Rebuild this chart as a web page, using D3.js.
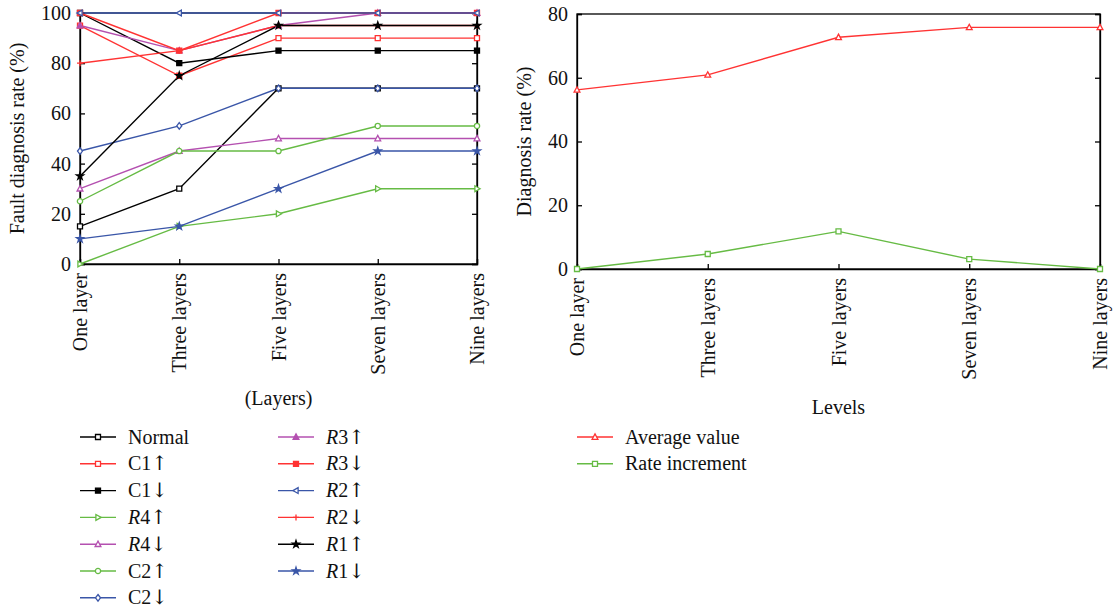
<!DOCTYPE html>
<html>
<head>
<meta charset="utf-8">
<script src="https://cdn.jsdelivr.net/npm/d3@7"></script>
<style>
  body { margin: 0; background: #fff; }
  svg text { font-family: "Liberation Serif", "DejaVu Serif", serif; fill: #111; }
  .axis path, .axis line { stroke: #000; stroke-width: 1.3; }
</style>
</head>
<body>
<svg id="chart" width="1115" height="614"></svg>
<script>
// categories
const layers = ['One layer', 'Three layers', 'Five layers', 'Seven layers', 'Nine layers'];

// left panel: fault diagnosis rate per fault type (%)
const normal = [15, 30, 70, 70, 70];
const c1Up = [95, 75, 90, 90, 90];
const c1Down = [100, 80, 85, 85, 85];
const r4Up = [0, 15, 20, 30, 30];
const r4Down = [30, 45, 50, 50, 50];
const c2Up = [25, 45, 45, 55, 55];
const c2Down = [45, 55, 70, 70, 70];
const r3Up = [95, 85, 95, 100, 100];
const r3Down = [100, 85, 100, 100, 100];
const r2Up = [100, 100, 100, 100, 100];
const r2Down = [80, 85, 95, 95, 95];
const r1Up = [35, 75, 95, 95, 95];
const r1Down = [10, 15, 30, 45, 45];

// right panel
const averageValue = [56.2, 60.9, 72.7, 75.8, 75.8];
const rateIncrement = [0, 4.7, 11.8, 3.1, 0];

const leftTicks = [0, 20, 40, 60, 80, 100];
const rightTicks = [0, 20, 40, 60, 80];

const BLACK = '#000', RED = '#ff3333', GREEN = '#66bb44', MAGENTA = '#b450b0', BLUE = '#3a56a8';
const UP = '\u2191\uFE0E', DOWN = '\u2193\uFE0E';

// name parts: [upright, italic, rest, arrow]
const leftSeries = [
  { name: ['Normal', '', '', ''], data: normal, color: BLACK, mark: 'square', fill: false },
  { name: ['C1', '', '', UP], data: c1Up, color: RED, mark: 'square', fill: false },
  { name: ['C1', '', '', DOWN], data: c1Down, color: BLACK, mark: 'square', fill: true },
  { name: ['', 'R', '4', UP], data: r4Up, color: GREEN, mark: 'right', fill: false },
  { name: ['', 'R', '4', DOWN], data: r4Down, color: MAGENTA, mark: 'triangle', fill: false },
  { name: ['C2', '', '', UP], data: c2Up, color: GREEN, mark: 'circle', fill: false },
  { name: ['C2', '', '', DOWN], data: c2Down, color: BLUE, mark: 'diamond', fill: false },
  { name: ['', 'R', '3', UP], data: r3Up, color: MAGENTA, mark: 'triangle', fill: true },
  { name: ['', 'R', '3', DOWN], data: r3Down, color: RED, mark: 'square', fill: true },
  { name: ['', 'R', '2', UP], data: r2Up, color: BLUE, mark: 'left', fill: false },
  { name: ['', 'R', '2', DOWN], data: r2Down, color: RED, mark: 'plus', fill: false },
  { name: ['', 'R', '1', UP], data: r1Up, color: BLACK, mark: 'star', fill: true },
  { name: ['', 'R', '1', DOWN], data: r1Down, color: BLUE, mark: 'star', fill: true }
];

const rightSeries = [
  { name: ['Average value', '', '', ''], data: averageValue, color: RED, mark: 'triangle', fill: false },
  { name: ['Rate increment', '', '', ''], data: rateIncrement, color: GREEN, mark: 'square', fill: false }
];

const svg = d3.select('#chart');

function markerPath(mark) {
  const s = 2.5;
  switch (mark) {
    case 'square': return `M${-s},${-s}H${s}V${s}H${-s}Z`;
    case 'triangle': return `M0,${-s - 0.6}L${s + 0.4},${s - 0.2}L${-s - 0.4},${s - 0.2}Z`;
    case 'right': return `M${s + 0.6},0L${-s + 0.4},${-s - 0.4}L${-s + 0.4},${s + 0.4}Z`;
    case 'left': return `M${-s - 0.6},0L${s - 0.4},${-s - 0.4}L${s - 0.4},${s + 0.4}Z`;
    case 'diamond': return `M0,${-s - 0.8}L${s},0L0,${s + 0.8}L${-s},0Z`;
    case 'plus': return `M${-s - 0.5},0H${s + 0.5}M0,${-s - 0.5}V${s + 0.5}`;
    case 'star': return d3.symbol(d3.symbolStar, 16)();
    default: return d3.symbol(d3.symbolCircle, 22)();
  }
}

function drawMarker(g, mark, color, fill) {
  const p = g.append('path').attr('d', markerPath(mark))
    .attr('stroke', color).attr('stroke-width', 1.3);
  p.attr('fill', fill ? color : (mark === 'plus' ? 'none' : '#fff'));
}

function panel(opts) {
  const x = d3.scalePoint().domain(opts.categories).range([opts.x0, opts.x1]);
  const y = d3.scaleLinear().domain(opts.yDomain).range([opts.y1, opts.y0]);
  const g = svg.append('g');

  // frame
  g.append('rect').attr('x', opts.x0).attr('y', opts.y0)
    .attr('width', opts.x1 - opts.x0).attr('height', opts.y1 - opts.y0)
    .attr('fill', 'none').attr('stroke', '#000').attr('stroke-width', 1.3);

  const yl = g.append('g').attr('class', 'axis').attr('transform', `translate(${opts.x0},0)`)
    .call(d3.axisLeft(y).tickValues(opts.ticks).tickSize(-5).tickPadding(9));
  yl.selectAll('text').style('font-size', '20px');
  g.append('g').attr('class', 'axis').attr('transform', `translate(${opts.x1},0)`)
    .call(d3.axisRight(y).tickValues(opts.ticks).tickSize(-5).tickFormat(''));
  const xb = g.append('g').attr('class', 'axis').attr('transform', `translate(0,${opts.y1})`)
    .call(d3.axisBottom(x).tickSize(-5).tickPadding(0));
  xb.selectAll('text')
    .style('font-size', '20px')
    .attr('text-anchor', 'end')
    .attr('transform', 'rotate(-90)')
    .attr('x', -9).attr('y', 0).attr('dy', '0.33em');
  g.selectAll('.axis .domain').attr('stroke', 'none');

  // titles
  g.append('text').attr('transform', `translate(${opts.yTitleX},${(opts.y0 + opts.y1) / 2}) rotate(-90)`)
    .attr('text-anchor', 'middle').style('font-size', '20px').text(opts.yTitle);
  g.append('text').attr('x', (opts.x0 + opts.x1) / 2).attr('y', opts.xTitleY)
    .attr('text-anchor', 'middle').style('font-size', '20px').text(opts.xTitle);

  const line = d3.line().x((d, i) => x(opts.categories[i])).y(d => y(d));
  opts.series.forEach(s => {
    g.append('path').datum(s.data).attr('d', line)
      .attr('fill', 'none').attr('stroke', s.color).attr('stroke-width', 1.4);
  });
  opts.series.forEach(s => {
    s.data.forEach((v, i) => {
      const m = g.append('g').attr('transform', `translate(${x(opts.categories[i])},${y(v)})`);
      drawMarker(m, s.mark, s.color, s.fill);
    });
  });
}

panel({
  categories: layers, series: leftSeries, yDomain: [0, 100], ticks: leftTicks,
  x0: 80, x1: 477, y0: 13, y1: 264,
  yTitle: 'Fault diagnosis rate (%)', yTitleX: 24,
  xTitle: '(Layers)', xTitleY: 405
});

panel({
  categories: layers, series: rightSeries, yDomain: [0, 80], ticks: rightTicks,
  x0: 577, x1: 1100, y0: 14, y1: 269,
  yTitle: 'Diagnosis rate (%)', yTitleX: 531,
  xTitle: 'Levels', xTitleY: 414
});

// legends
function legend(items, x, y, perCol, colGap, rowGap) {
  items.forEach((s, i) => {
    const col = Math.floor(i / perCol), row = i % perCol;
    const g = svg.append('g').attr('transform', `translate(${x + col * colGap},${y + row * rowGap})`);
    g.append('line').attr('x1', 0).attr('x2', 36).attr('stroke', s.color).attr('stroke-width', 1.4);
    const m = g.append('g').attr('transform', 'translate(18,0)');
    drawMarker(m, s.mark, s.color, s.fill);
    const t = g.append('text').attr('x', 48).attr('dy', '0.33em').style('font-size', '20px');
    if (s.name[0]) t.append('tspan').text(s.name[0]);
    if (s.name[1]) t.append('tspan').style('font-style', 'italic').text(s.name[1]);
    if (s.name[2]) t.append('tspan').text(s.name[2]);
    if (s.name[3]) t.append('tspan')
      .style('font-family', '"DejaVu Serif", "DejaVu Sans"')
      .style('font-size', '20px').style('fill', '#111')
      .text(s.name[3]);
  });
}

legend(leftSeries, 80, 437, 7, 198, 26.8);
legend(rightSeries, 577, 437, 7, 0, 26.8);
</script>
</body>
</html>
